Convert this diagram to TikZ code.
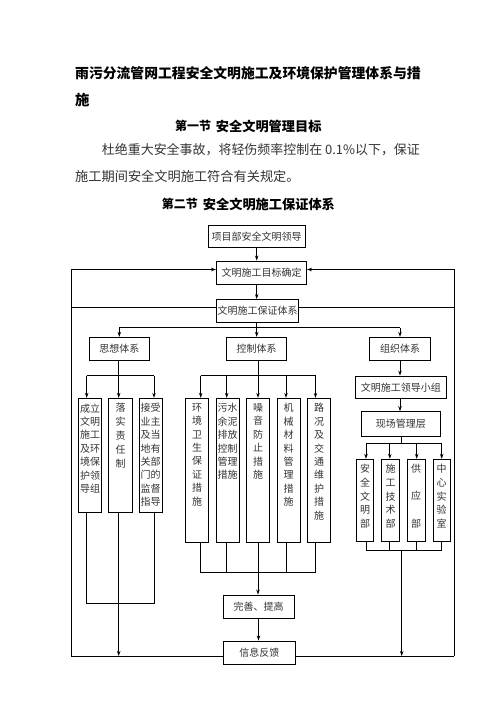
\documentclass[tikz,border=0pt]{standalone}
\usepackage{fontspec}
\usepackage{graphicx}
\setmainfont{Noto Sans CJK SC}
\usetikzlibrary{arrows.meta}
\begin{document}
\begin{tikzpicture}[x=1pt,y=-1pt,
  box/.style={draw=black, line width=0.9pt, inner sep=0pt, text=black!80, font=\fontsize{10}{12}\selectfont},
  vcol/.style={inner sep=0pt, align=center, anchor=north, text=black!80, font=\fontsize{10}{13.4}\selectfont},
  vcolw/.style={vcol, font=\fontsize{10}{13.8}\selectfont},
  ln/.style={line width=0.8pt},
  arr/.style={line width=0.8pt, -{Stealth[length=5pt,width=3.5pt]}},
  head/.style={inner sep=0pt, anchor=west, font=\bfseries\fontsize{13.2}{14}\selectfont},
  headnum/.style={inner sep=0pt, anchor=west, font=\bfseries\fontsize{12}{14}\selectfont},
  body/.style={inner sep=0pt, anchor=west, text=black!80, font=\fontsize{13.2}{14}\selectfont},
]
\useasboundingbox (0,0) rectangle (496,702);

% texts
\node[inner sep=0pt, anchor=west, font=\bfseries\fontsize{14.4}{15}\selectfont] (title1) at (75,73.3) {\resizebox{345.5pt}{!}{雨污分流管网工程安全文明施工及环境保护管理体系与措}};
\node[inner sep=0pt, anchor=west, font=\bfseries\fontsize{14.4}{15}\selectfont] (title2) at (75,100) {施};
\node[headnum] (s1a) at (175,126) {第一节};
\node[head] (s1b) at (215.7,126) {安全文明管理目标};
\node[body] (p1) at (101.7,150) {\resizebox{318pt}{!}{杜绝重大安全事故，将轻伤频率控制在 0.1\%以下，保证}};
\node[body] (p2) at (75,176) {施工期间安全文明施工符合有关规定。};
\node[headnum] (s2a) at (161.7,204) {第二节};
\node[head] (s2b) at (202.7,204) {安全文明施工保证体系};

% top chain
\node[box, minimum width=97pt, minimum height=22pt] (lead) at (256.7,236.5) {项目部安全文明领导};
\node[box, minimum width=90pt, minimum height=23pt] (goal) at (261.5,272.5) {文明施工目标确定};
\node[box, minimum width=82pt, minimum height=23pt] (guar) at (257.7,311) {文明施工保证体系};

\node[box, minimum width=60pt, minimum height=23.4pt] (think) at (119.3,349) {思想体系};
\node[box, minimum width=60pt, minimum height=23.4pt] (ctrl) at (256.7,349) {控制体系};
\node[box, minimum width=61.4pt, minimum height=23.4pt] (org) at (400,349) {组织体系};
\node[box, minimum width=91.7pt, minimum height=22.3pt] (lg) at (400.8,387.2) {文明施工领导小组};
\node[box, minimum width=78.3pt, minimum height=24.3pt] (site) at (400.8,423.8) {现场管理层};

% thought columns
\node[box, minimum width=23.4pt, minimum height=114.4pt] (t1) at (90,455.5) {};
\node[box, minimum width=23.4pt, minimum height=114.4pt] (t2) at (120.5,455.5) {};
\node[box, minimum width=23.4pt, minimum height=114.4pt] (t3) at (150.7,455.5) {};
\node[vcol] (t1x) at ([yshift=-5.5pt]t1.north) {成立\\文明\\施工\\及环\\境保\\护领\\导组};
\node[vcolw] (t2x) at ([yshift=-5.5pt]t2.north) {落\\实\\责\\任\\制};
\node[vcol] (t3x) at ([yshift=-5.5pt]t3.north) {接受\\业主\\及当\\地有\\关部\\门的\\监督\\指导};

% control columns
\node[box, minimum width=22.6pt, minimum height=144pt] (c1) at (197,470.3) {};
\node[box, minimum width=23.3pt, minimum height=144pt] (c2) at (227.7,470.3) {};
\node[box, minimum width=22.6pt, minimum height=144pt] (c3) at (258,470.3) {};
\node[box, minimum width=22.6pt, minimum height=144pt] (c4) at (288.7,470.3) {};
\node[box, minimum width=23.3pt, minimum height=144pt] (c5) at (319,470.3) {};
\node[vcol] (c1x) at ([yshift=-5.5pt]c1.north) {环\\境\\卫\\生\\保\\证\\措\\施};
\node[vcol] (c2x) at ([yshift=-5.5pt]c2.north) {污水\\余泥\\排放\\控制\\管理\\措施};
\node[vcol] (c3x) at ([yshift=-5.5pt]c3.north) {噪\\音\\防\\止\\措\\施};
\node[vcol] (c4x) at ([yshift=-5.5pt]c4.north) {机\\械\\材\\料\\管\\理\\措\\施};
\node[vcol] (c5x) at ([yshift=-5.5pt]c5.north) {路\\况\\及\\交\\通\\维\\护\\措\\施};

% organisation columns
\node[box, minimum width=17.5pt, minimum height=82.5pt] (o1) at (365,500.5) {};
\node[box, minimum width=17.5pt, minimum height=82.5pt] (o2) at (390.5,500.5) {};
\node[box, minimum width=17.5pt, minimum height=82.5pt] (o3) at (416.2,500.5) {};
\node[box, minimum width=17.5pt, minimum height=82.5pt] (o4) at (441.7,500.5) {};
\node[vcolw] (o1x) at ([yshift=-5pt]o1.north) {安\\全\\文\\明\\部};
\node[vcolw] (o2x) at ([yshift=-5pt]o2.north) {施\\工\\技\\术\\部};
\node[vcolw] (o3x) at ([yshift=-5pt]o3.north) {供\\[13.8pt]应\\[13.8pt]部};
\node[vcolw] (o4x) at ([yshift=-5pt]o4.north) {中\\心\\实\\验\\室};

\node[box, minimum width=71pt, minimum height=23pt] (imp) at (258.5,606.5) {完善、提高};
\node[box, minimum width=72.7pt, minimum height=23pt] (fb) at (259.3,652.5) {信息反馈};

% coordinates
\coordinate (lt) at (71,269.5);
\coordinate (lb) at (71,656);
\coordinate (rt) at (454,269.5);
\coordinate (rb) at (454,656);
\coordinate (gy) at (0,307);
\coordinate (br) at (256.7,327.7);
\coordinate (ta) at (86.7,375.7);
\coordinate (tb) at (118.7,375.7);
\coordinate (tc) at (154,375.7);
\coordinate (tbot) at (0,603);
\coordinate (ca) at (200.7,375.7);
\coordinate (cb) at (226.7,375.7);
\coordinate (cc) at (258,375.7);
\coordinate (cd) at (286,375.7);
\coordinate (ce) at (315.5,375.7);
\coordinate (cbot) at (0,572.3);
\coordinate (oa) at (366,443.3);
\coordinate (ob) at (389.8,443.3);
\coordinate (oc) at (416.7,443.3);
\coordinate (od) at (441.7,443.3);
\coordinate (om) at (401.5,443.3);
\coordinate (obot) at (401.7,550);

% top chain arrows
\draw[arr] (lead.south) -- (lead.south |- goal.north);
\draw[arr] (lead.south |- goal.south) -- (lead.south |- guar.north);
\draw[ln] (br |- guar.south) -- (br);
\draw[ln] (think.north |- br) -- (org.north |- br);
\draw[arr] (think.north |- br) -- (think.north);
\draw[arr] (br) -- (ctrl.north);
\draw[arr] (org.north |- br) -- (org.north);

% outer loop
\draw[arr] (lb) -- (lt) -- (lt -| goal.west);
\draw[arr] (rb) -- (rt) -- (rt -| goal.east);
\draw[ln] (lt |- gy) -- (gy -| guar.west);
\draw[ln] (gy -| guar.east) -- (rt |- gy);
\draw[ln] (lb) -- (lb -| fb.west);
\draw[ln] (fb.east |- rb) -- (rb);

% thought branch
\draw[ln] (think.south -| tb) -- (tb);
\draw[ln] (ta) -- (tc);
\draw[arr] (ta) -- (ta |- t1.north);
\draw[arr] (tb) -- (tb |- t2.north);
\draw[arr] (tc) -- (tc |- t3.north);
\draw[ln] (ta |- t1.south) -- (ta |- tbot) -- (tc |- tbot) -- (tc |- t3.south);
\draw[arr] (tb |- t2.south) -- (tb |- lb);

% control branch
\draw[ln] (ctrl.south -| cc) -- (cc);
\draw[ln] (ca) -- (ce);
\draw[arr] (ca) -- (ca |- c1.north);
\draw[arr] (cb) -- (cb |- c2.north);
\draw[arr] (cc) -- (cc |- c3.north);
\draw[arr] (cd) -- (cd |- c4.north);
\draw[arr] (ce) -- (ce |- c5.north);
\draw[ln] (ca |- c1.south) -- (ca |- cbot) -- (ce |- cbot) -- (ce |- c5.south);
\draw[ln] (cb |- c2.south) -- (cb |- cbot);
\draw[ln] (cc |- c3.south) -- (cc |- cbot);
\draw[ln] (cd |- c4.south) -- (cd |- cbot);
\draw[arr] (cc |- cbot) -- (cc |- imp.north);
\draw[arr] (imp.south) -- (imp.south |- fb.north);

% organisation branch
\draw[arr] (org.south) -- (org.south |- lg.north);
\draw[arr] (org.south |- lg.south) -- (org.south |- site.north);
\draw[ln] (site.south -| om) -- (om);
\draw[ln] (oa) -- (od);
\draw[arr] (oa) -- (oa |- o1.north);
\draw[arr] (ob) -- (ob |- o2.north);
\draw[arr] (oc) -- (oc |- o3.north);
\draw[arr] (od) -- (od |- o4.north);
\draw[ln] (oa |- o1.south) -- (oa |- obot) -- (od |- obot) -- (od |- o4.south);
\draw[ln] (ob |- o2.south) -- (ob |- obot);
\draw[ln] (oc |- o3.south) -- (oc |- obot);
\draw[arr] (obot) -- (obot |- rb);
\end{tikzpicture}
\end{document}
